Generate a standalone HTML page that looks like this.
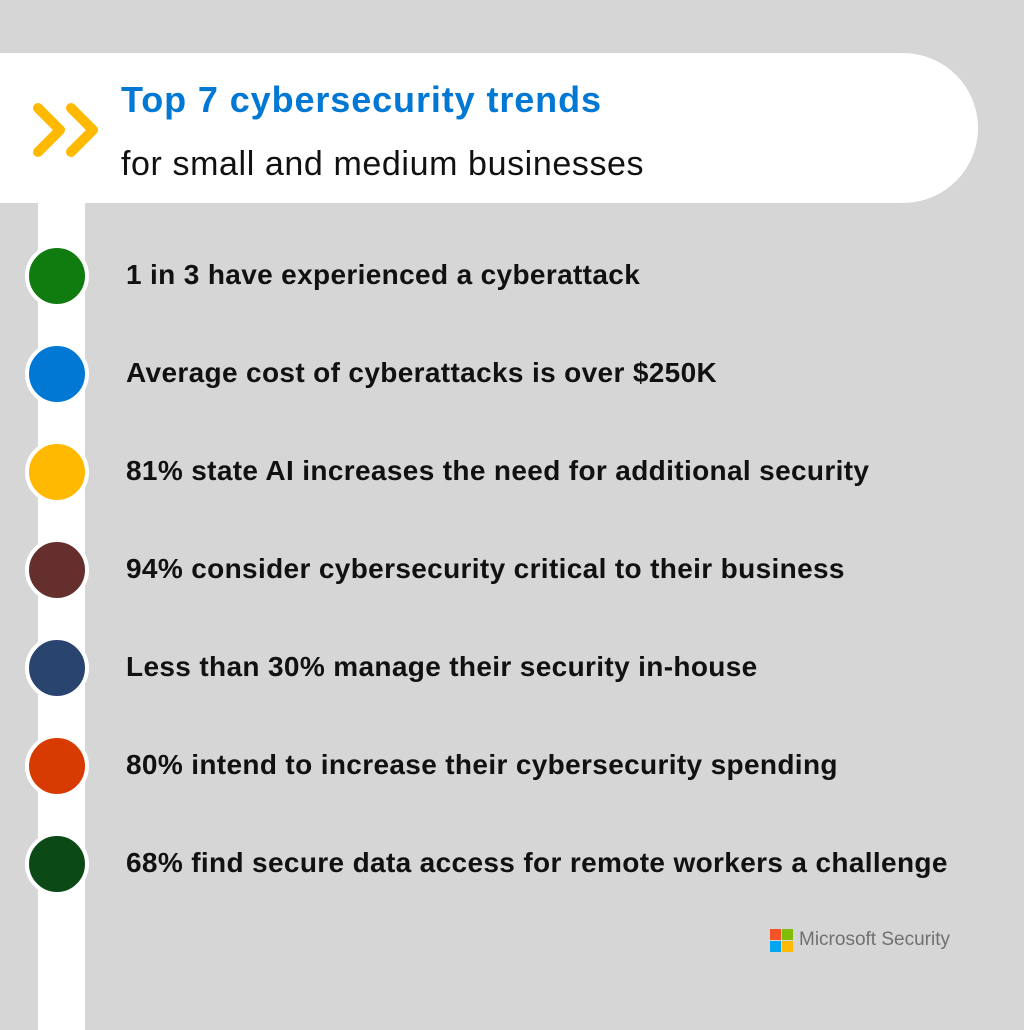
<!DOCTYPE html>
<html><head><style>
body{margin:0;width:1024px;height:1024px;background:#d6d6d6;position:relative;overflow:hidden;font-family:"Liberation Sans",sans-serif}
.hdr{position:absolute;left:0;top:53px;width:978px;height:150px;background:#fff;border-radius:0 75px 75px 0}
.bar{position:absolute;left:38px;top:200px;width:47px;height:830px;background:#fff}
.t1{position:absolute;left:121px;top:79px;font-size:36px;font-weight:bold;color:#0078d4;letter-spacing:0.9px}
.t2{position:absolute;left:121px;top:145px;font-size:34px;color:#111;letter-spacing:0.6px}
.dot{position:absolute;left:27px;width:56px;height:56px;border-radius:50%;border:4px solid #fff;margin-top:-32px;margin-left:-2px}
.it{position:absolute;left:126px;font-size:28px;font-weight:bold;color:#111;margin-top:-17px;white-space:nowrap;letter-spacing:0.35px}
.ms{position:absolute;left:799px;top:929px;font-size:19px;color:#707070}
</style></head><body>
<div class="hdr"></div>
<div class="bar"></div>
<svg style="position:absolute;left:30px;top:98px" width="75" height="64"><g fill="none" stroke="#ffb900" stroke-width="10" stroke-linecap="round" stroke-linejoin="round"><polyline points="8,10 30,32 8,54"/><polyline points="41,10 63,32 41,54"/></g></svg>
<div class="t1">Top 7 cybersecurity trends</div>
<div class="t2">for small and medium businesses</div>
<div class="dot" style="top:276px;background:#107c10"></div>
<div class="dot" style="top:374px;background:#0078d4"></div>
<div class="dot" style="top:472px;background:#ffb900"></div>
<div class="dot" style="top:570px;background:#652f2d"></div>
<div class="dot" style="top:668px;background:#2a4470"></div>
<div class="dot" style="top:766px;background:#d83b01"></div>
<div class="dot" style="top:864px;background:#0b4a17"></div>
<div class="it" style="top:276px">1 in 3 have experienced a cyberattack</div>
<div class="it" style="top:374px">Average cost of cyberattacks is over $250K</div>
<div class="it" style="top:472px">81% state AI increases the need for additional security</div>
<div class="it" style="top:570px">94% consider cybersecurity critical to their business</div>
<div class="it" style="top:668px">Less than 30% manage their security in-house</div>
<div class="it" style="top:766px">80% intend to increase their cybersecurity spending</div>
<div class="it" style="top:864px">68% find secure data access for remote workers a challenge</div>
<svg style="position:absolute;left:770px;top:929px" width="24" height="24"><rect x="0" y="0" width="11" height="11" fill="#f35325"/><rect x="12" y="0" width="11" height="11" fill="#81bc06"/><rect x="0" y="12" width="11" height="11" fill="#05a6f0"/><rect x="12" y="12" width="11" height="11" fill="#ffba08"/></svg>
<div class="ms">Microsoft Security</div>
</body></html>
